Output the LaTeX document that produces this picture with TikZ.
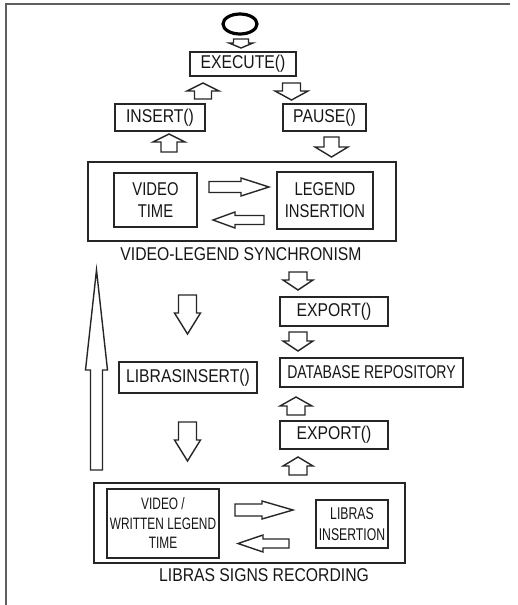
\documentclass[tikz,border=0pt]{standalone}
\usepackage{fontspec}
\setmainfont{Liberation Sans}[FakeStretch=0.85]
\newfontfamily\fB{Liberation Sans}[FakeStretch=0.8]
\newfontfamily\fC{Liberation Sans}[FakeStretch=0.76]
\newfontfamily\fN{Liberation Sans}[FakeStretch=0.72]
\usetikzlibrary{shapes.geometric}
\definecolor{linec}{HTML}{262626}
\definecolor{framec}{HTML}{5E5E5E}
\definecolor{txt}{HTML}{161616}
\newcommand{\barr}[7]{% x, y, angle, length, shaft half, head half, head length
\begin{scope}[shift={(#1,#2)},rotate=#3]
\draw[arr] ({-#4/2},{-#5}) -- ({#4/2-#7},{-#5}) -- ({#4/2-#7},{-#6}) -- ({#4/2},0) -- ({#4/2-#7},{#6}) -- ({#4/2-#7},{#5}) -- ({-#4/2},{#5}) -- cycle;
\end{scope}}
\begin{document}
\begin{tikzpicture}[x=1pt,y=-1pt,
  box/.style={draw=linec, line width=1.7pt, inner sep=0pt, align=center, text=txt,
    font=\fontsize{18.5}{22}\selectfont},
  lbl/.style={inner sep=0pt, anchor=base, text=txt, font=\fontsize{18.5}{22}\selectfont},
  arr/.style={draw=linec, line width=1.4pt, fill=white, line join=miter}]
\useasboundingbox (0,0) rectangle (517,605);
% frame
\draw[framec, line width=2pt] (6,605) -- (6,4) -- (510,4);
% start
\node[draw=black, ellipse, line width=3.2pt, minimum width=34pt, minimum height=20pt, inner sep=0pt] (start) at (240,24) {};
% boxes
\node[box, minimum width=106pt, minimum height=24pt] (exec) at (243,64) {EXECUTE()};
\node[box, minimum width=90pt, minimum height=27pt] (insert) at (160,117.5) {INSERT()};
\node[box, minimum width=83pt, minimum height=27pt] (pause) at (324.5,117.5) {PAUSE()};
\node[box, minimum width=308pt, minimum height=79pt] (sync) at (242,201.5) {};
\node[box, minimum width=83pt, minimum height=54pt, font=\fB\fontsize{18.5}{22}\selectfont] (vtime) at (155.5,200) {VIDEO\\TIME};
\node[box, minimum width=96pt, minimum height=57pt, font=\fB\fontsize{18.5}{22}\selectfont] (legins) at (325,200.5) {LEGEND\\INSERTION};
\node[lbl] (synclbl) at (241,260) {VIDEO-LEGEND SYNCHRONISM};
\node[box, minimum width=108pt, minimum height=29pt] (exp1) at (334,311.5) {EXPORT()};
\node[box, minimum width=183pt, minimum height=29pt, font=\fC\fontsize{18.5}{22}\selectfont] (db) at (371.5,372.5) {DATABASE REPOSITORY};
\node[box, minimum width=138pt, minimum height=31pt] (librasins) at (188,377.5) {LIBRASINSERT()};
\node[box, minimum width=108pt, minimum height=28pt] (exp2) at (334,435) {EXPORT()};
\node[box, minimum width=311pt, minimum height=80pt] (rec) at (249.5,523) {};
\node[box, minimum width=112pt, minimum height=69pt, font=\fN\fontsize{16.5}{19.5}\selectfont] (vwl) at (163,523.5) {VIDEO /\\WRITTEN LEGEND\\TIME};
\node[box, minimum width=72pt, minimum height=48pt, font=\fN\fontsize{17}{21}\selectfont] (libins) at (352,524) {LIBRAS\\INSERTION};
\node[lbl] (reclbl) at (264,581) {LIBRAS SIGNS RECORDING};
% block arrows
\barr{241}{43.5}{-90}{9}{7.5}{12}{5}
\barr{203}{91}{90}{16}{8.5}{16}{8}
\barr{291.5}{91.5}{-90}{17}{9}{16.5}{9}
\barr{169}{143}{90}{18}{8}{16}{8}
\barr{331.5}{147}{-90}{20}{7.5}{16.5}{10}
\barr{239}{187}{0}{60}{5.5}{9}{28}
\barr{238.5}{220}{180}{51}{4.5}{8}{22}
\barr{187.5}{314.5}{-90}{39}{9}{13}{21}
\barr{298}{281}{-90}{18}{9}{15}{10}
\barr{298}{341.5}{-90}{19}{9}{15}{10}
\barr{296}{406}{90}{18}{9}{16}{9}
\barr{187.5}{441.5}{-90}{39}{9}{13}{21}
\barr{298}{466}{90}{18}{9}{15}{9}
\barr{264}{510}{0}{58}{6}{9}{31}
\barr{263.5}{543.5}{180}{51}{4.5}{8.5}{25}
% tall arrow
\draw[arr] (90.5,470) -- (90.5,370) -- (85.5,370) -- (96.5,270) -- (107.5,370) -- (102.5,370) -- (102.5,470) -- cycle;
\end{tikzpicture}
\end{document}
